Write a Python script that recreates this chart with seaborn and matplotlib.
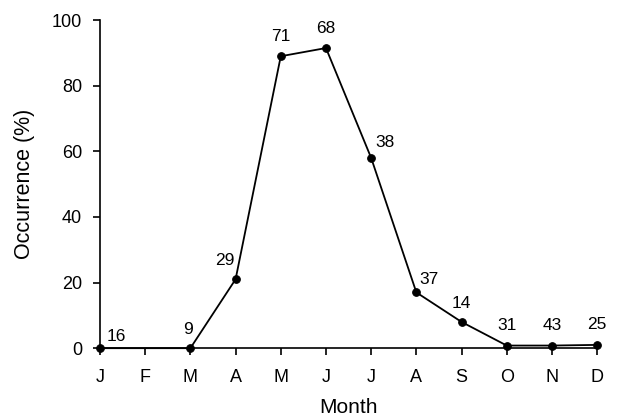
import matplotlib
matplotlib.use("Agg")
import matplotlib.pyplot as plt
import seaborn as sns
import pandas as pd

month_labels = ["J", "F", "M", "A", "M", "J", "J", "A", "S", "O", "N", "D"]
month_idx = [0, 2, 3, 4, 5, 6, 7, 8, 9, 10, 11]
occurrence = [0, 0, 21, 89, 91.5, 58, 17, 8, 0.8, 0.8, 1]
sample_n = ["16", "9", "29", "71", "68", "38", "37", "14", "31", "43", "25"]
label_offsets = [(12, 3), (-2, 8), (-8, 8), (0, 9), (0, 9), (10, 6), (9, 4), (0, 8), (0, 9), (0, 9), (0, 9)]

df = pd.DataFrame({"month": month_idx, "occ": occurrence})

sns.set_style("ticks")
plt.rcParams['font.family'] = ['Liberation Sans', 'DejaVu Sans']
plt.rcParams['text.color'] = 'black'
plt.rcParams['axes.labelcolor'] = 'black'

fig = plt.figure(figsize=(6.23, 4.20), dpi=100)
ax = fig.add_axes([0.1605, 0.171, 0.798, 0.781])
sns.lineplot(data=df, x="month", y="occ", ax=ax, color="black", marker="o",
             markersize=5.5, linewidth=1.3, markeredgecolor="black", clip_on=False)

for x, y, t, (dx, dy) in zip(month_idx, occurrence, sample_n, label_offsets):
    ax.annotate(t, (x, y), xytext=(dx, dy), textcoords="offset points",
                ha="center", va="bottom", fontsize=12.5, color="black")

ax.set_xlim(0, 11)
ax.set_ylim(0, 100)
ax.set_xticks(range(12))
ax.set_xticklabels(month_labels)
ax.set_yticks([0, 20, 40, 60, 80, 100])
ax.tick_params(axis="y", labelsize=13, direction="out", length=5, width=1.2,
               colors="black", pad=8)
ax.tick_params(axis="x", labelsize=13, direction="out", length=5, width=1.2,
               colors="black", pad=10)
ax.set_xlabel("Month", fontsize=15, labelpad=8.5)
ax.set_ylabel("Occurrence (%)", fontsize=15.5, labelpad=12)
for s in ["top", "right"]:
    ax.spines[s].set_visible(False)
for s in ["left", "bottom"]:
    ax.spines[s].set_linewidth(1.2)
    ax.spines[s].set_color("black")

fig.savefig("out.png", dpi=100)
